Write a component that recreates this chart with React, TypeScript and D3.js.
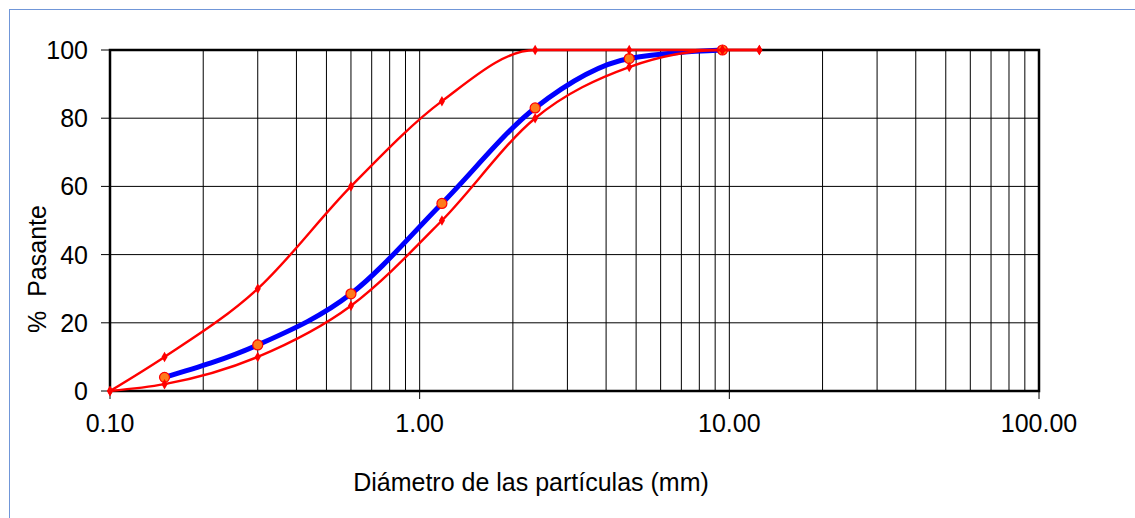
import * as d3 from 'd3';

// sieve sizes (mm) and % passing
const blueSizes = [0.15, 0.3, 0.6, 1.18, 2.36, 4.75, 9.5];
const bluePassing = [4, 13.5, 28.5, 55, 83, 97.5, 100];

const limitSizes = [0.1, 0.15, 0.3, 0.6, 1.18, 2.36, 4.75, 9.5, 12.5];
const upperPassing = [0, 10, 30, 60, 85, 100, 100, 100, 100];
const lowerPassing = [0, 2, 10, 25, 50, 80, 95, 100, 100];

const yTicks = [0, 20, 40, 60, 80, 100];
const xMajor = [0.1, 1, 10, 100];

const W = 1135;
const H = 518;
const margin = { top: 50, right: 96, bottom: 127, left: 110 };
const FONT = '"Liberation Sans", Arial, sans-serif';

export default function App() {
  const width = W - margin.left - margin.right;
  const height = H - margin.top - margin.bottom;

  const x = d3.scaleLog().domain([0.1, 100]).range([margin.left, margin.left + width]);
  const y = d3.scaleLinear().domain([0, 100]).range([margin.top + height, margin.top]);

  // minor grid: 2..9 in every decade
  const minor: number[] = [];
  for (let e = -1; e < 2; e++) {
    for (let k = 2; k <= 9; k++) minor.push(k * Math.pow(10, e));
  }

  const line = d3.line<[number, number]>()
    .x(d => x(d[0]))
    .y(d => y(d[1]))
    .curve(d3.curveMonotoneX);

  const blue = blueSizes.map((s, i) => [s, bluePassing[i]] as [number, number]);
  const upper = limitSizes.map((s, i) => [s, upperPassing[i]] as [number, number]);
  const lower = limitSizes.map((s, i) => [s, lowerPassing[i]] as [number, number]);
  const diamond = d3.symbol().type(d3.symbolDiamond).size(32)();

  return (
    <div style={{ position: 'absolute', left: 0, top: 0 }}>
      <svg width={W} height={H} style={{ display: 'block' }}>
        <rect x={9.5} y={9.5} width={1200} height={600} fill="white" stroke="#7096d8" />

        {/* grid */}
        {minor.map(v => (
          <line key={'v' + v} x1={x(v)} x2={x(v)} y1={margin.top} y2={margin.top + height} stroke="#000" strokeWidth={1} />
        ))}
        {yTicks.slice(1, -1).map(v => (
          <line key={'h' + v} x1={margin.left} x2={margin.left + width} y1={y(v)} y2={y(v)} stroke="#000" strokeWidth={1} />
        ))}
        {xMajor.slice(1, -1).map(v => (
          <line key={'m' + v} x1={x(v)} x2={x(v)} y1={margin.top} y2={margin.top + height} stroke="#000" strokeWidth={1} />
        ))}

        {/* plot border */}
        <rect x={margin.left} y={margin.top} width={width} height={height} fill="none" stroke="#000" strokeWidth={2.5} />

        {/* y axis ticks */}
        {yTicks.map(v => (
          <g key={'yt' + v}>
            <line x1={margin.left - 9} x2={margin.left} y1={y(v)} y2={y(v)} stroke="#000" strokeWidth={1} />
            <text x={88} y={y(v) + 9} textAnchor="end" fontFamily={FONT} fontSize={25} fill="#000">{v}</text>
          </g>
        ))}
        {/* x axis ticks */}
        {xMajor.map(v => (
          <g key={'xt' + v}>
            <line x1={x(v)} x2={x(v)} y1={margin.top + height} y2={margin.top + height + 8} stroke="#000" strokeWidth={1} />
            <text x={x(v)} y={432} textAnchor="middle" fontFamily={FONT} fontSize={25} fill="#000">{d3.format('.2f')(v)}</text>
          </g>
        ))}

        {/* series */}
        <path d={line(blue) ?? ''} fill="none" stroke="#0000ff" strokeWidth={5} />
        {blue.map((d, i) => (
          <circle key={'b' + i} cx={x(d[0])} cy={y(d[1])} r={5} fill="#ff7b1a" stroke="#ff0000" strokeWidth={1.2} />
        ))}
        <path d={line(upper) ?? ''} fill="none" stroke="#ff0000" strokeWidth={2.4} />
        <path d={line(lower) ?? ''} fill="none" stroke="#ff0000" strokeWidth={2.4} />
        {upper.concat(lower).map((d, i) => (
          <path key={'r' + i} d={diamond ?? ''} transform={`translate(${x(d[0])},${y(d[1])})`} fill="#ff0000" />
        ))}

        {/* axis titles */}
        <text x={531} y={491} textAnchor="middle" fontFamily={FONT} fontSize={25} fill="#000">Diámetro de las partículas (mm)</text>
        <text transform="translate(46,269) rotate(-90)" textAnchor="middle" fontFamily={FONT} fontSize={25} fill="#000" style={{ whiteSpace: 'pre' }}>%  Pasante</text>
      </svg>
    </div>
  );
}
